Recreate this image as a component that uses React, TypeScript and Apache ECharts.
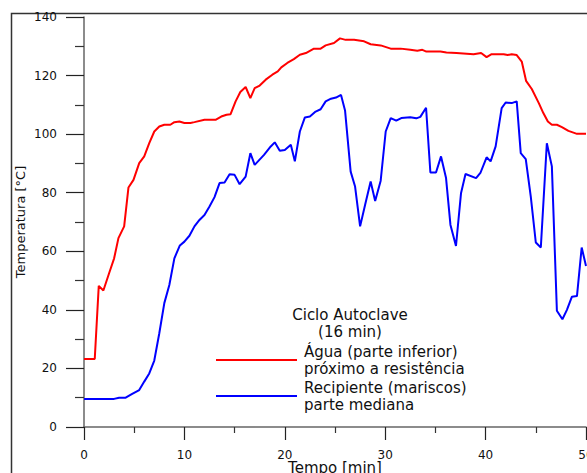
import React, { useEffect, useRef } from "react";
import * as echarts from "echarts";

// Água (parte inferior) próximo a resistência: [tempo (min), temperatura (°C)]
const waterSeries: number[][] = [
  [0, 23.2], [1.07, 23.2], [1.47, 48.2], [1.93, 46.6], [2.5, 52.5], [3, 57.6], [3.43, 64.5], [4, 68.5],
  [4.43, 81.8], [4.93, 84.4], [5.5, 90.1], [6, 92.4], [6.5, 96.9], [7, 100.9], [7.5, 102.6], [8, 103.2],
  [8.6, 103.2], [9, 104.1], [9.5, 104.3], [10, 103.8], [10.6, 103.8], [11, 104.1], [12, 104.9], [13.1, 104.9],
  [13.67, 106], [14.2, 106.6], [14.6, 106.8], [15.1, 111.2], [15.57, 114.4], [16.1, 116.1], [16.57, 112.3],
  [17, 115.7], [17.5, 116.6], [18.1, 118.6], [18.76, 120.3], [19.3, 121.4], [19.65, 122.8], [20.25, 124.3],
  [20.9, 125.6], [21.5, 127.1], [22.1, 127.7], [22.9, 129.2], [23.57, 129.2], [24.07, 130.3], [24.9, 131.1],
  [25.5, 132.7], [26.06, 132.2], [26.9, 132.2], [27.9, 131.7], [28.55, 130.7], [29.55, 130.3], [30.55, 129.2],
  [31.54, 129.2], [32.5, 128.8], [33.2, 128.5], [33.7, 128.8], [34.1, 128.2], [35.5, 128.2], [36.1, 127.9],
  [37.1, 127.7], [38.8, 127.3], [39.55, 127.7], [40.1, 126.3], [40.6, 127.3], [41.8, 127.3], [42.2, 127],
  [42.6, 127.3], [43.1, 127], [43.6, 124.8], [44.03, 118.2], [44.6, 115.4], [45.3, 110.6], [45.75, 107.2],
  [46.2, 104.3], [46.6, 103.2], [47.1, 103.2], [47.6, 102.4], [48.25, 101.1], [49.1, 100.1], [50, 100.1],
];

// Recipiente (mariscos) parte mediana: [tempo (min), temperatura (°C)]
const vesselSeries: number[][] = [
  [0, 9.6], [3, 9.6], [3.5, 10], [4.15, 10], [4.8, 11.3], [5.5, 12.6], [6, 15.5], [6.5, 18.3], [7, 22.7],
  [7.5, 32], [8, 42.3], [8.5, 48.5], [9, 57.6], [9.55, 62], [10, 63.3], [10.5, 65.3], [11, 68.5], [11.5, 70.7],
  [12, 72.4], [12.5, 75.3], [13, 78.5], [13.5, 83.3], [14, 83.5], [14.5, 86.3], [15, 86.1], [15.5, 82.9],
  [16.1, 85.5], [16.57, 93.5], [17, 89.5], [17.93, 92.9], [18.6, 95.8], [19, 97.2], [19.5, 94.3], [20, 94.6],
  [20.6, 96.4], [21, 90.7], [21.5, 100.9], [22, 105.7], [22.5, 106], [23.07, 107.7], [23.57, 108.5],
  [24.07, 111.2], [24.6, 112.1], [25.1, 112.5], [25.6, 113.4], [26, 108.1], [26.56, 87.2], [27, 82.1],
  [27.5, 68.5], [28, 75.9], [28.55, 83.8], [29, 77.2], [29.55, 84.1], [30.05, 100.9], [30.55, 105.5],
  [31.1, 104.6], [31.6, 105.5], [32.5, 105.8], [33.1, 105.4], [33.5, 105.9], [34.07, 109], [34.5, 86.9],
  [35.06, 86.9], [35.56, 92.4], [36.06, 85], [36.5, 69], [37.05, 61.8], [37.55, 79.8], [38, 86.4],
  [39.05, 85], [39.5, 86.9], [40.1, 92.1], [40.5, 90.7], [41, 95.8], [41.6, 108.9], [42, 110.8],
  [42.6, 110.6], [43.1, 111.2], [43.5, 93.5], [44, 91.5], [44.5, 78.7], [45, 63], [45.5, 61.3],
  [46.1, 96.9], [46.6, 89], [47.1, 39.7], [47.65, 36.8], [48.1, 40], [48.6, 44.5], [49.1, 44.7],
  [49.57, 61.3], [50, 55],
];

const seriesNames = ["Água (parte inferior)", "Recipiente (mariscos)"];
const seriesSubNames = ["próximo a resistência", "parte mediana"];
const seriesColors = ["#ff0000", "#0000ff"];
const legendTitleLines = ["Ciclo Autoclave", "(16 min)"];
const xAxisName = "Tempo [min]";
const yAxisName = "Temperatura [°C]";

const FONT = "DejaVu Sans";

export default function App() {
  const ref = useRef<HTMLDivElement>(null);
  useEffect(() => {
    if (!ref.current) return;
    const chart = echarts.init(ref.current, undefined, { renderer: "svg" });

    const txt = (text: string, x: number, y: number, align: string) => ({
      type: "text",
      x,
      y,
      silent: true,
      style: {
        text,
        fontFamily: FONT,
        fontSize: 15,
        fill: "#111",
        align,
        verticalAlign: "middle",
      },
    });

    const legendGraphics: any[] = [];
    const itemCenters = [360, 396];
    seriesNames.forEach((name, i) => {
      const cy = itemCenters[i];
      legendGraphics.push({
        type: "line",
        silent: true,
        shape: { x1: 216, y1: cy, x2: 297, y2: cy },
        style: { stroke: seriesColors[i], lineWidth: 2 },
      });
      legendGraphics.push(txt(name, 304, cy - 8, "left"));
      legendGraphics.push(txt(seriesSubNames[i], 304, cy + 8.5, "left"));
    });

    chart.setOption({
      animation: false,
      backgroundColor: "#ffffff",
      grid: { left: 84, top: 17, right: 1, bottom: 46, containLabel: false, outerBoundsMode: "none" },
      xAxis: {
        type: "value",
        min: 0,
        max: 50,
        interval: 10,
        name: xAxisName,
        nameLocation: "middle",
        nameGap: 33,
        nameMoveOverlap: false,
        nameTextStyle: { fontFamily: FONT, fontSize: 15, color: "#111" },
        axisLine: { show: true, lineStyle: { color: "#666", width: 1.5 } },
        axisTick: { show: true, length: 13, lineStyle: { color: "#222", width: 1.2 } },
        minorTick: { show: true, splitNumber: 2, length: 6, lineStyle: { color: "#333", width: 1.2 } },
        axisLabel: { fontFamily: FONT, fontSize: 12, color: "#111", margin: 22, hideOverlap: false },
        splitLine: { show: false },
      },
      yAxis: {
        type: "value",
        min: 0,
        max: 140,
        interval: 20,
        name: yAxisName,
        nameLocation: "middle",
        nameGap: 57,
        nameMoveOverlap: false,
        nameTextStyle: { fontFamily: FONT, fontSize: 13, color: "#111" },
        axisLine: { show: true, lineStyle: { color: "#666", width: 1.5 } },
        axisTick: { show: true, length: 18, lineStyle: { color: "#222", width: 1.2 } },
        minorTick: { show: true, splitNumber: 2, length: 9, lineStyle: { color: "#333", width: 1.2 } },
        axisLabel: { fontFamily: FONT, fontSize: 12, color: "#111", margin: 27 },
        splitLine: { show: false },
      },
      graphic: [
        {
          type: "rect",
          left: 9,
          top: 11,
          z: -10,
          silent: true,
          shape: { width: 640, height: 520 },
          style: { fill: "none", stroke: "#333", lineWidth: 1.5 },
        },
        txt(legendTitleLines[0], 350, 315, "center"),
        txt(legendTitleLines[1], 350, 332, "center"),
        ...legendGraphics,
      ],
      series: [
        {
          name: seriesNames[0],
          type: "line",
          data: waterSeries,
          showSymbol: false,
          symbol: "none",
          lineStyle: { color: seriesColors[0], width: 2 },
          itemStyle: { color: seriesColors[0] },
        },
        {
          name: seriesNames[1],
          type: "line",
          data: vesselSeries,
          showSymbol: false,
          symbol: "none",
          lineStyle: { color: seriesColors[1], width: 2 },
          itemStyle: { color: seriesColors[1] },
        },
      ],
    });
    return () => chart.dispose();
  }, []);
  return (
    <div
      ref={ref}
      style={{ position: "absolute", left: 0, top: 0, width: 587, height: 473 }}
    />
  );
}
